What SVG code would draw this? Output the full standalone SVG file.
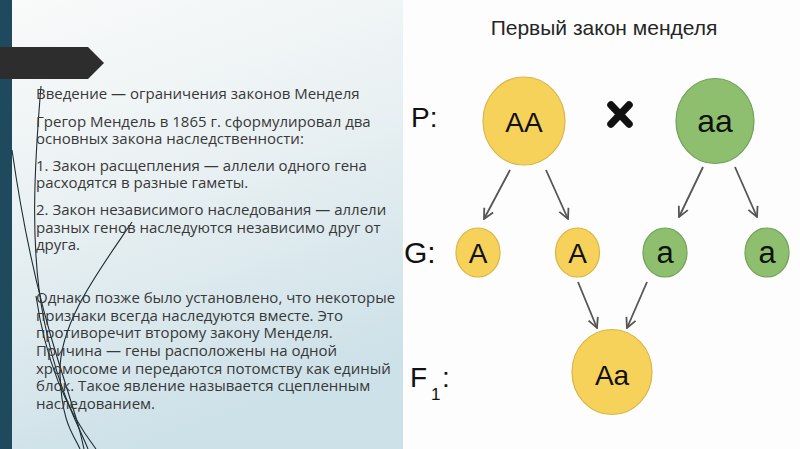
<svg xmlns="http://www.w3.org/2000/svg" width="800" height="449" viewBox="0 0 800 449">
<defs>
<linearGradient id="panel" x1="0" y1="0" x2="0.3" y2="1">
<stop offset="0" stop-color="#f9fafa"/>
<stop offset="0.45" stop-color="#eaf1f3"/>
<stop offset="1" stop-color="#cde1e8"/>
</linearGradient>
<marker id="arr" viewBox="0 0 12 12" refX="11" refY="6" markerWidth="12" markerHeight="12" markerUnits="userSpaceOnUse" orient="auto">
<path d="M1,1 L11,6 L1,11" fill="none" stroke="#555" stroke-width="1.8" stroke-linejoin="miter"/>
</marker>
<style>
.body{font-family:"Open Sans","Noto Sans",sans-serif;font-size:15px;fill:#383838}
.lbl{font-family:"Liberation Sans",Arial,sans-serif;fill:#111}
.ttl{font-family:"Liberation Sans",Arial,sans-serif;font-size:21px;fill:#262626}
.yel{fill:#f6d25a;stroke:#d9b649;stroke-width:1.2}
.grn{fill:#8dbf6e;stroke:#71a158;stroke-width:1.2}
.con{stroke:#555;stroke-width:1.8;fill:none;marker-end:url(#arr)}
.wisp{stroke:#1d2c33;stroke-width:1.1;fill:none}
</style>
</defs>
<rect width="800" height="449" fill="#fdfdfd"/>
<rect x="12" y="0" width="391" height="449" fill="url(#panel)"/>
<rect x="0" y="0" width="12" height="449" fill="#1f4a5e"/>
<g id="wisps">
<path class="wisp" d="M41,86 C34,170 30,250 44,320 S76,420 88,449"/>
<path class="wisp" d="M12,150 C22,220 36,290 58,360 S80,430 84,449"/>
<path class="wisp" d="M132,222 C96,275 58,325 60,375 S74,435 80,449"/>
<path class="wisp" d="M36,296 C44,350 62,405 96,449"/>
</g>
<polygon id="bar" points="0,47 88,47 104,63 88,79 0,79" fill="#2d2d2d"/>
<g id="body-text" class="body">
<text x="36" y="99">Введение — ограничения законов Менделя</text>
<text x="36" y="127">Грегор Мендель в 1865 г. сформулировал два<tspan x="36" dy="17">основных закона наследственности:</tspan></text>
<text x="36" y="171">1. Закон расщепления — аллели одного гена<tspan x="36" dy="17">расходятся в разные гаметы.</tspan></text>
<text x="36" y="215">2. Закон независимого наследования — аллели<tspan x="36" dy="18">разных генов наследуются независимо друг от</tspan><tspan x="36" dy="17">друга.</tspan></text>
<text x="36" y="303">Однако позже было установлено, что некоторые<tspan x="36" dy="18">признаки всегда наследуются вместе. Это</tspan><tspan x="36" dy="17">противоречит второму закону Менделя.</tspan><tspan x="36" dy="18">Причина — гены расположены на одной</tspan><tspan x="36" dy="18">хромосоме и передаются потомству как единый</tspan><tspan x="36" dy="17">блок. Такое явление называется сцепленным</tspan><tspan x="36" dy="18">наследованием.</tspan></text>
</g>
<text id="title" class="ttl" x="604" y="35" text-anchor="middle">Первый закон менделя</text>
<g id="row-labels" class="lbl">
<text x="411" y="127" font-size="28">P:</text>
<text x="404" y="263" font-size="30">G:</text>
<text x="410" y="387" font-size="28">F</text>
<text x="431" y="400" font-size="17">1</text>
<text x="442" y="387" font-size="28">:</text>
</g>
<g id="cross">
<path d="M611,105 L629,124 M629,105 L611,124" stroke="#111" stroke-width="7.5" stroke-linecap="round"/>
</g>
<g id="connectors">
<line class="con" x1="510" y1="170" x2="484" y2="219"/>
<line class="con" x1="546" y1="170" x2="568" y2="219"/>
<line class="con" x1="703" y1="167" x2="679" y2="217"/>
<line class="con" x1="735" y1="167" x2="757" y2="217"/>
<line class="con" x1="578" y1="282" x2="597" y2="328"/>
<line class="con" x1="647" y1="282" x2="627" y2="328"/>
</g>
<g id="node-AA">
<ellipse class="yel" cx="524" cy="121" rx="41" ry="44"/>
<text class="lbl" x="524" y="132" font-size="28" text-anchor="middle">AA</text>
</g>
<g id="node-aa">
<ellipse class="grn" cx="715" cy="121" rx="39" ry="42.5"/>
<text class="lbl" x="715" y="132" font-size="32" text-anchor="middle">aa</text>
</g>
<g id="node-gA1">
<ellipse class="yel" cx="478" cy="252.5" rx="22" ry="24.5"/>
<text class="lbl" x="478" y="263" font-size="28" text-anchor="middle">A</text>
</g>
<g id="node-gA2">
<ellipse class="yel" cx="577.5" cy="252.5" rx="22" ry="24.5"/>
<text class="lbl" x="577.5" y="263" font-size="28" text-anchor="middle">A</text>
</g>
<g id="node-ga1">
<ellipse class="grn" cx="665" cy="252.5" rx="22" ry="24.5"/>
<text class="lbl" x="665" y="263" font-size="31" text-anchor="middle">a</text>
</g>
<g id="node-ga2">
<ellipse class="grn" cx="767" cy="252.5" rx="22" ry="24.5"/>
<text class="lbl" x="767" y="263" font-size="31" text-anchor="middle">a</text>
</g>
<g id="node-Aa">
<ellipse class="yel" cx="612" cy="372" rx="40" ry="42.5"/>
<text class="lbl" x="612" y="385" font-size="28" text-anchor="middle">Aa</text>
</g>
</svg>
